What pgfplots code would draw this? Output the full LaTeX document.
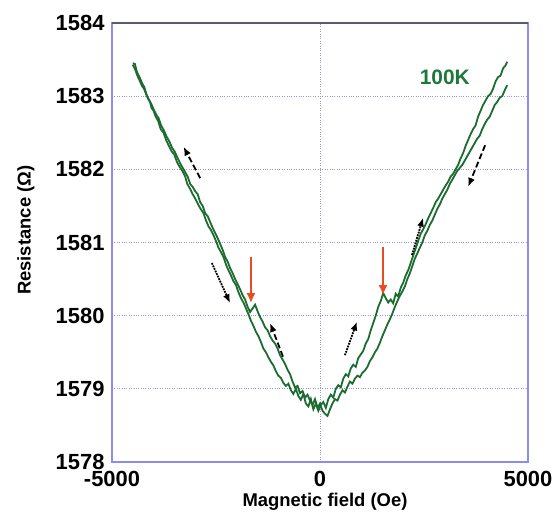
\documentclass[border=0pt]{standalone}
\usepackage{fontspec}
\setmainfont{Liberation Sans}
\usepackage{pgfplots}
\pgfplotsset{compat=1.18}
\usetikzlibrary{arrows.meta}
\definecolor{curvegreen}{RGB}{28,108,48}
\definecolor{labelgreen}{RGB}{30,120,60}
\definecolor{gridcol}{RGB}{150,150,215}
\definecolor{axiscol}{RGB}{140,140,240}
\definecolor{topcol}{RGB}{90,90,110}
\definecolor{redarrow}{RGB}{235,75,35}
\begin{document}
\begin{tikzpicture}
\begin{axis}[
  at={(0,0)}, anchor=south west,
  scale only axis, width=416bp, height=439bp,
  xmin=-5000, xmax=5000, ymin=1578, ymax=1584,
  xtick={-5000,0,5000}, xticklabels={-5000,0,5000},
  ytick={1578,1579,1580,1581,1582,1583,1584},
  yticklabels={1578,1579,1580,1581,1582,1583,1584},
  major tick length=0pt,
  grid=major,
  major grid style={dotted, gridcol, line width=1bp},
  axis line style={axiscol, line width=1.3bp},
  tick label style={font=\fontsize{22}{25}\selectfont\bfseries},
  xticklabel style={yshift=-6bp},
  yticklabel style={xshift=-4bp},
  xlabel={Magnetic field (Oe)},
  ylabel={Resistance (Ω)},
  xlabel style={at={(axis description cs:0.512,-0.09)}, anchor=center, font=\fontsize{18.5}{22}\selectfont\bfseries},
  ylabel style={at={(axis description cs:-0.207,0.528)}, anchor=center, font=\fontsize{18.5}{22}\selectfont\bfseries},
  clip=false,
]
% curve A (shifted to negative field)
\addplot[curvegreen, line width=1.8bp] coordinates {
(-4500,1583.45) (-4450,1583.44) (-4400,1583.33) (-4330,1583.25) (-4280,1583.18)
(-4220,1583.12) (-4170,1583.02) (-4130,1582.97) (-4090,1582.93) (-4050,1582.84)
(-4000,1582.80) (-3950,1582.72) (-3890,1582.66) (-3830,1582.55) (-3760,1582.50)
(-3700,1582.40) (-3640,1582.33) (-3570,1582.25) (-3500,1582.20) (-3440,1582.10)
(-3380,1582.04) (-3300,1581.97) (-3240,1581.90) (-3190,1581.80) (-3120,1581.73)
(-3060,1581.66) (-3000,1581.60) (-2930,1581.52) (-2870,1581.46) (-2800,1581.40)
(-2740,1581.30) (-2680,1581.22) (-2620,1581.17) (-2560,1581.10) (-2500,1581.02)
(-2440,1580.93) (-2380,1580.87) (-2320,1580.80) (-2260,1580.70) (-2200,1580.62)
(-2140,1580.55) (-2080,1580.47) (-2020,1580.42) (-1960,1580.32) (-1900,1580.24)
(-1840,1580.18) (-1780,1580.10) (-1720,1580.02) (-1660,1579.93) (-1600,1579.86)
(-1540,1579.78) (-1480,1579.72) (-1420,1579.64) (-1360,1579.55) (-1300,1579.50)
(-1240,1579.43) (-1180,1579.37) (-1120,1579.32) (-1060,1579.24) (-1000,1579.18)
(-940,1579.15) (-880,1579.08) (-820,1579.04) (-760,1579.07) (-700,1578.98)
(-640,1578.93) (-580,1579.00) (-520,1578.90) (-460,1578.85) (-400,1578.93)
(-340,1578.80) (-280,1578.76) (-220,1578.86) (-160,1578.72) (-100,1578.80)
(-40,1578.70) (20,1578.78) (80,1578.82) (140,1578.74) (200,1578.86)
(260,1578.92) (320,1578.88) (380,1579.00) (440,1579.05) (500,1579.02)
(560,1579.14) (620,1579.20) (680,1579.17) (740,1579.28) (800,1579.33)
(860,1579.30) (920,1579.42) (980,1579.47) (1040,1579.52) (1100,1579.62)
(1160,1579.68) (1220,1579.80) (1280,1579.90) (1340,1580.00) (1400,1580.12)
(1460,1580.20) (1520,1580.31) (1580,1580.24) (1640,1580.18) (1700,1580.22)
(1760,1580.17) (1820,1580.30) (1880,1580.26) (1940,1580.38) (2000,1580.45)
(2060,1580.55) (2120,1580.62) (2180,1580.72) (2240,1580.82) (2300,1580.92)
(2360,1581.02) (2420,1581.12) (2480,1581.18) (2540,1581.25) (2600,1581.33)
(2660,1581.40) (2720,1581.47) (2780,1581.55) (2840,1581.60) (2900,1581.66)
(2960,1581.72) (3020,1581.78) (3080,1581.83) (3140,1581.90) (3200,1581.94)
(3260,1582.00) (3320,1582.06) (3380,1582.15) (3440,1582.22) (3500,1582.32)
(3560,1582.40) (3620,1582.48) (3680,1582.55) (3740,1582.60) (3800,1582.72)
(3860,1582.80) (3920,1582.88) (3980,1582.94) (4040,1583.00) (4100,1583.03)
(4160,1583.10) (4220,1583.20) (4280,1583.26) (4340,1583.28) (4400,1583.38)
(4460,1583.42) (4500,1583.47)
};
% curve B (shifted to positive field)
\addplot[curvegreen, line width=1.8bp] coordinates {
(-4500,1583.43) (-4440,1583.36) (-4390,1583.28) (-4340,1583.22) (-4280,1583.14)
(-4230,1583.10) (-4180,1583.03) (-4120,1582.95) (-4060,1582.90) (-4000,1582.82)
(-3940,1582.75) (-3880,1582.70) (-3820,1582.60) (-3750,1582.53) (-3690,1582.45)
(-3620,1582.38) (-3560,1582.30) (-3490,1582.24) (-3420,1582.15) (-3360,1582.08)
(-3300,1582.02) (-3240,1581.96) (-3180,1581.90) (-3120,1581.80) (-3060,1581.76)
(-3000,1581.70) (-2940,1581.66) (-2880,1581.55) (-2820,1581.50) (-2760,1581.40)
(-2700,1581.36) (-2640,1581.28) (-2580,1581.20) (-2520,1581.13) (-2460,1581.06)
(-2400,1580.98) (-2340,1580.90) (-2280,1580.80) (-2220,1580.74) (-2160,1580.65)
(-2100,1580.58) (-2040,1580.50) (-1980,1580.43) (-1920,1580.36) (-1860,1580.28)
(-1800,1580.22) (-1740,1580.12) (-1680,1580.05) (-1620,1580.10) (-1560,1580.15)
(-1500,1580.06) (-1440,1579.98) (-1380,1579.92) (-1320,1579.84) (-1260,1579.80)
(-1200,1579.72) (-1140,1579.66) (-1080,1579.62) (-1020,1579.55) (-960,1579.46)
(-900,1579.40) (-840,1579.34) (-780,1579.26) (-720,1579.20) (-660,1579.10)
(-600,1579.02) (-540,1579.04) (-480,1578.94) (-420,1578.97) (-360,1578.88)
(-300,1578.92) (-240,1578.84) (-180,1578.78) (-120,1578.86) (-60,1578.74)
(0,1578.80) (60,1578.70) (120,1578.66) (180,1578.63) (240,1578.72)
(300,1578.80) (360,1578.86) (420,1578.84) (480,1578.92) (540,1578.98)
(600,1578.95) (660,1579.03) (720,1579.10) (780,1579.07) (840,1579.14)
(900,1579.18) (960,1579.16) (1020,1579.22) (1080,1579.25) (1140,1579.30)
(1200,1579.38) (1260,1579.43) (1320,1579.50) (1380,1579.55) (1440,1579.63)
(1500,1579.72) (1560,1579.80) (1620,1579.88) (1680,1579.95) (1740,1580.03)
(1800,1580.12) (1860,1580.20) (1920,1580.27) (1980,1580.33) (2040,1580.40)
(2100,1580.50) (2160,1580.58) (2220,1580.68) (2280,1580.78) (2340,1580.85)
(2400,1580.93) (2460,1581.00) (2520,1581.10) (2580,1581.16) (2640,1581.24)
(2700,1581.30) (2760,1581.38) (2820,1581.46) (2880,1581.52) (2940,1581.60)
(3000,1581.66) (3060,1581.72) (3120,1581.80) (3180,1581.86) (3240,1581.92)
(3300,1581.98) (3360,1582.02) (3420,1582.06) (3480,1582.12) (3540,1582.18)
(3600,1582.24) (3660,1582.30) (3720,1582.36) (3780,1582.42) (3840,1582.46)
(3900,1582.55) (3960,1582.62) (4020,1582.68) (4080,1582.72) (4140,1582.80)
(4200,1582.88) (4260,1582.92) (4320,1582.98) (4380,1583.00) (4440,1583.08)
(4500,1583.15)
};
% top border in grey
\draw[topcol, line width=1.3bp] (rel axis cs:0,1) -- (rel axis cs:1,1);
% direction arrows
\draw[black, line width=1.8bp, dash pattern=on 6bp off 3bp, -{Latex[length=9bp,width=7bp]}] (axis cs:-2880,1581.88) -- (axis cs:-3282,1582.31);
\draw[black, line width=1.8bp, densely dotted, -{Latex[length=9bp,width=7bp]}] (axis cs:-2600,1580.72) -- (axis cs:-2160,1580.17);
\draw[black, line width=1.8bp, dash pattern=on 6bp off 3bp, -{Latex[length=9bp,width=7bp]}] (axis cs:-890,1579.44) -- (axis cs:-1200,1579.90);
\draw[black, line width=1.8bp, densely dotted, -{Latex[length=9bp,width=7bp]}] (axis cs:600,1579.46) -- (axis cs:890,1579.92);
\draw[black, line width=1.8bp, densely dotted, -{Latex[length=9bp,width=7bp]}] (axis cs:2210,1580.83) -- (axis cs:2480,1581.34);
\draw[black, line width=1.8bp, dash pattern=on 6bp off 3bp, -{Latex[length=9bp,width=7bp]}] (axis cs:3970,1582.33) -- (axis cs:3560,1581.76);
% red arrows
\draw[redarrow, line width=2.8bp, -{Latex[length=10bp,width=9bp]}] (axis cs:-1660,1580.80) -- (axis cs:-1660,1580.17);
\draw[redarrow, line width=2.8bp, -{Latex[length=10bp,width=9bp]}] (axis cs:1515,1580.94) -- (axis cs:1515,1580.28);
\node[text=labelgreen, font=\fontsize{21}{24}\selectfont\bfseries] at (axis cs:3000,1583.26) {100K};
\end{axis}
\path (-112bp,-63bp) rectangle (445bp,462bp);
\end{tikzpicture}
\end{document}
